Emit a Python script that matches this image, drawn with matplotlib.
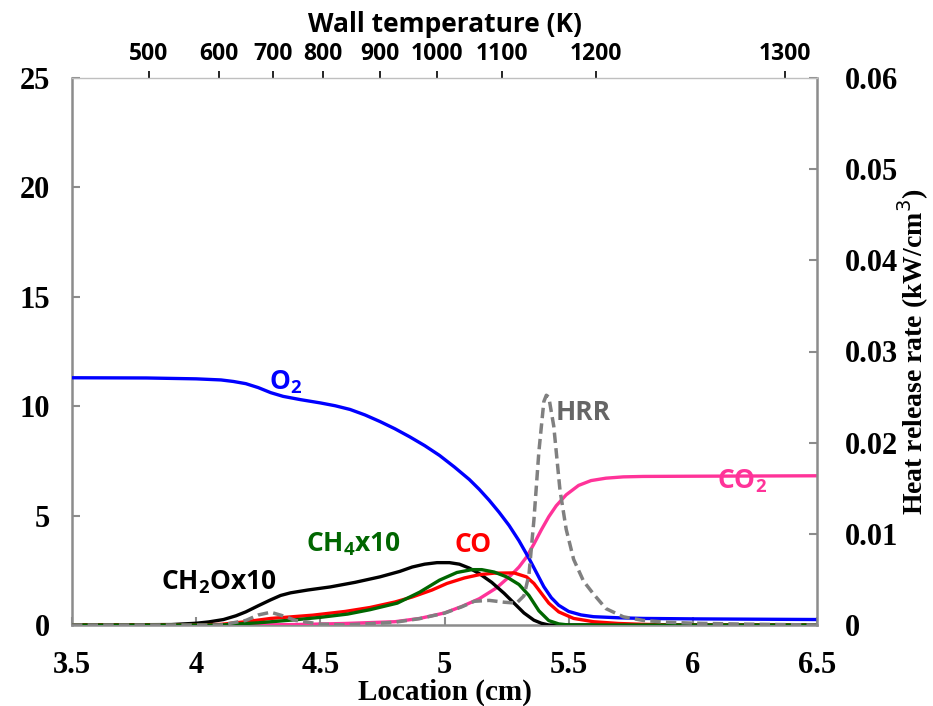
import numpy as np
import matplotlib.pyplot as plt

# --- species profiles (mole fraction %, left axis) ---
x_o2 = [3.5, 3.8, 4.0, 4.1, 4.15, 4.2, 4.25, 4.3, 4.35, 4.42, 4.5, 4.56, 4.62, 4.68, 4.74,
        4.8, 4.86, 4.92, 4.98, 5.04, 5.1, 5.14, 5.18, 5.22, 5.26, 5.3, 5.34, 5.37, 5.4,
        5.43, 5.46, 5.5, 5.55, 5.6, 5.7, 5.8, 6.0, 6.5]
o2 = [11.3, 11.29, 11.25, 11.2, 11.13, 11.03, 10.85, 10.62, 10.45, 10.3, 10.15, 10.02, 9.85,
      9.6, 9.3, 8.97, 8.6, 8.2, 7.75, 7.22, 6.65, 6.2, 5.7, 5.15, 4.55, 3.85, 3.05, 2.4, 1.75,
      1.25, 0.9, 0.62, 0.46, 0.38, 0.33, 0.3, 0.28, 0.25]

x_co2 = [3.5, 4.2, 4.4, 4.6, 4.8, 4.9, 5.0, 5.07, 5.14, 5.21, 5.27, 5.3, 5.33, 5.36, 5.39,
         5.42, 5.45, 5.49, 5.54, 5.59, 5.65, 5.72, 5.8, 6.0, 6.5]
co2 = [0, 0, 0.02, 0.07, 0.15, 0.3, 0.55, 0.85, 1.2, 1.7, 2.3, 2.65, 3.1, 3.7, 4.35,
       4.95, 5.45, 5.95, 6.38, 6.6, 6.71, 6.77, 6.79, 6.8, 6.82]

x_co = [3.5, 4.0, 4.1, 4.2, 4.3, 4.47, 4.6, 4.7, 4.8, 4.87, 4.95, 5.01, 5.08, 5.14, 5.2,
        5.28, 5.33, 5.36, 5.39, 5.42, 5.46, 5.52, 5.6, 5.7, 5.8, 5.95, 6.5]
co = [0, 0, 0.03, 0.15, 0.3, 0.45, 0.62, 0.8, 1.05, 1.28, 1.6, 1.9, 2.15, 2.3, 2.37,
      2.38, 2.2, 1.9, 1.45, 1.0, 0.6, 0.3, 0.15, 0.07, 0.03, 0, 0]

x_ch4 = [3.5, 4.1, 4.25, 4.41, 4.5, 4.61, 4.7, 4.81, 4.9, 4.98, 5.05, 5.11, 5.15, 5.2,
         5.25, 5.3, 5.34, 5.38, 5.42, 5.46, 5.5, 6.5]
ch4x10 = [0, 0, 0.1, 0.25, 0.35, 0.5, 0.7, 1.0, 1.5, 2.05, 2.4, 2.53, 2.53, 2.42,
          2.2, 1.85, 1.35, 0.65, 0.2, 0.05, 0, 0]

x_ch2o = [3.5, 3.9, 4.0, 4.05, 4.11, 4.16, 4.2, 4.25, 4.3, 4.34, 4.38, 4.45, 4.54, 4.64,
          4.74, 4.82, 4.87, 4.92, 4.97, 5.02, 5.06, 5.1, 5.14, 5.19, 5.24, 5.28, 5.32,
          5.36, 5.39, 5.42, 6.5]
ch2ox10 = [0, 0.02, 0.08, 0.14, 0.25, 0.42, 0.6, 0.88, 1.15, 1.35, 1.47, 1.6, 1.74, 1.95,
           2.2, 2.45, 2.65, 2.78, 2.85, 2.85, 2.78, 2.6, 2.35, 1.95, 1.45, 1.0, 0.55,
           0.22, 0.08, 0, 0]

# --- heat release rate (kW/cm3, right axis) ---
x_hrr = [3.5, 4.1, 4.2, 4.25, 4.3, 4.35, 4.4, 4.5, 4.6, 4.8, 4.9, 5.0, 5.07, 5.12, 5.18,
         5.24, 5.29, 5.32, 5.34, 5.36, 5.38, 5.4, 5.41, 5.42, 5.44, 5.465, 5.49, 5.52,
         5.56, 5.6, 5.65, 5.72, 5.8, 5.9, 6.0, 6.2, 6.5]
hrr = [0, 0, 0.0005, 0.0011, 0.0014, 0.001, 0.0005, 0.0001, 0, 0.0003, 0.0007, 0.0013,
       0.002, 0.0026, 0.0027, 0.0025, 0.0024, 0.0032, 0.0055, 0.0115, 0.019, 0.0245,
       0.0252, 0.025, 0.0218, 0.0148, 0.0105, 0.0072, 0.0048, 0.0034, 0.0018, 0.0009,
       0.0005, 0.0003, 0.0002, 0.0001, 0.0]

# --- wall temperature axis (top) ---
wall_temp = [500, 600, 700, 800, 900, 1000, 1100, 1200, 1300]
wall_pos = [3.81, 4.09, 4.31, 4.51, 4.74, 4.97, 5.23, 5.61, 6.37]

x_ticks = [3.5, 4, 4.5, 5, 5.5, 6, 6.5]
x_ticklabels = ['3.5', '4', '4.5', '5', '5.5', '6', '6.5']
y_ticks = [0, 5, 10, 15, 20, 25]
hrr_ticks = [0, 0.01, 0.02, 0.03, 0.04, 0.05, 0.06]
hrr_ticklabels = ['0', '0.01', '0.02', '0.03', '0.04', '0.05', '0.06']

serif = 'Liberation Serif'
sans = 'Open Sans'
spine_gray = '#8C8C8C'
plt.rcParams['mathtext.fontset'] = 'custom'
plt.rcParams['mathtext.bf'] = 'Open Sans:bold'

fig = plt.figure(figsize=(9.33, 7.06), dpi=100)
ax = fig.add_axes([72/933, 1-625/706, 745/933, 547/706])
ax2 = ax.twinx()
axt = ax.twiny()

lw = 2.4
ax.plot(x_co2, co2, color='#FF3399', lw=lw, zorder=3)
ax.plot(x_ch2o, ch2ox10, color='black', lw=lw, zorder=4)
ax.plot(x_co, co, color='#FF0000', lw=lw, zorder=4)
ax.plot(x_ch4, ch4x10, color='#006600', lw=lw, zorder=5)
ax.plot(x_o2, o2, color='#0000FF', lw=lw, zorder=6)
ax2.plot(x_hrr, hrr, color='#808080', lw=2.5, ls=(0, (3.0, 1.5)))

ax.set_xlim(3.5, 6.5)
ax.set_ylim(0, 25)
ax2.set_ylim(0, 0.06)
axt.set_xlim(3.5, 6.5)

ax.set_xticks(x_ticks)
ax.set_xticklabels(x_ticklabels)
ax.set_yticks(y_ticks)
ax2.set_yticks(hrr_ticks)
ax2.set_yticklabels(hrr_ticklabels)
axt.set_xticks(wall_pos)
axt.set_xticklabels([str(t) for t in wall_temp])

for a in (ax, ax2, axt):
    for s in a.spines.values():
        s.set_visible(False)
for side in ('left', 'bottom'):
    ax.spines[side].set_visible(True)
    ax.spines[side].set_color(spine_gray)
    ax.spines[side].set_linewidth(1.8)
ax2.spines['right'].set_visible(True)
ax2.spines['right'].set_color(spine_gray)
ax2.spines['right'].set_linewidth(1.8)
axt.spines['top'].set_visible(True)
axt.spines['top'].set_color('#BFBFBF')
axt.spines['top'].set_linewidth(1.0)

ax.tick_params(axis='x', direction='in', length=6, width=1.5, color=spine_gray, pad=19)
ax.tick_params(axis='y', direction='in', length=6, width=1.5, color=spine_gray, pad=16)
ax2.tick_params(axis='y', direction='in', length=6, width=1.5, color=spine_gray, pad=20)
axt.tick_params(axis='x', direction='out', length=5, width=1.2, color='black', pad=4)
for lab in ax.get_xticklabels() + ax.get_yticklabels() + ax2.get_yticklabels():
    lab.set_family(serif)
    lab.set_fontsize(22)
    lab.set_fontweight('bold')
for lab in axt.get_xticklabels():
    lab.set_family(sans)
    lab.set_fontsize(16.5)
    lab.set_fontweight('bold')

ax.set_xlabel('Location (cm)', labelpad=-1, fontsize=21, fontweight='bold', family=serif)
ax2.set_ylabel('Heat release rate (kW/cm$^{3}$)', labelpad=-2, fontsize=20,
               fontweight='bold', family=serif)
axt.set_xlabel('Wall temperature (K)', fontsize=19, fontweight='bold', family=sans, labelpad=7)

# curve labels
lab_kw = dict(fontsize=19, fontweight='bold', family=sans, ha='center', va='center')
ax.text(4.36, 11.1, 'O$_\\mathbf{2}$', color='#0000FF', **lab_kw)
ax.text(6.2, 6.55, 'CO$_\\mathbf{2}$', color='#FF3399', **lab_kw)
ax.text(5.56, 9.73, 'HRR', color='#666666', **lab_kw)
ax.text(5.115, 3.7, 'CO', color='#FF0000', **lab_kw)
ax.text(4.635, 3.7, 'CH$_\\mathbf{4}$x10', color='#006600', **lab_kw)
ax.text(4.09, 1.97, 'CH$_\\mathbf{2}$Ox10', color='black', **lab_kw)

fig.savefig('out.png', dpi=100)
